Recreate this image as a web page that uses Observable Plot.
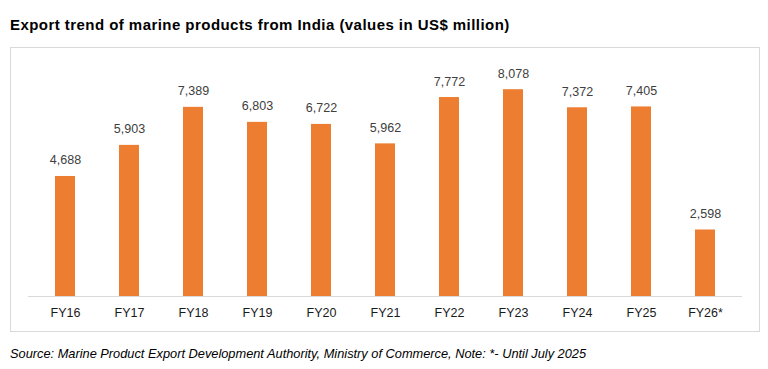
<!DOCTYPE html>
<html>
<head>
<meta charset="utf-8">
<script src="https://cdn.jsdelivr.net/npm/d3@7"></script>
<script src="https://cdn.jsdelivr.net/npm/@observablehq/plot@0.6"></script>
<style>
  html, body { margin: 0; padding: 0; background: #fff; }
  body { width: 768px; height: 369px; position: relative; overflow: hidden; font-family: "Liberation Sans", Arial, sans-serif; }
  #title { position: absolute; left: 10px; top: 16px; font-weight: bold; font-size: 15px; letter-spacing: 0.45px; color: #000; white-space: nowrap; line-height: 17px; }
  #box { position: absolute; left: 10px; top: 47px; width: 748px; height: 283px; border: 1px solid #d9d9d9; }
  #chart { position: absolute; left: 0; top: 0; }
  #caption { position: absolute; left: 10px; top: 346px; font-style: italic; font-size: 12.8px; color: #000; white-space: nowrap; line-height: 15px; }
</style>
</head>
<body>
<div id="title">Export trend of marine products from India (values in US$ million)</div>
<div id="box"></div>
<div id="chart"></div>
<div id="caption">Source: Marine Product Export Development Authority, Ministry of Commerce, Note: *- Until July 2025</div>
<script>
const years = ["FY16", "FY17", "FY18", "FY19", "FY20", "FY21", "FY22", "FY23", "FY24", "FY25", "FY26*"];
const exportsUSDm = [4688, 5903, 7389, 6803, 6722, 5962, 7772, 8078, 7372, 7405, 2598];

const data = years.map((year, i) => ({year, value: exportsUSDm[i]}));

const chart = Plot.plot({
  width: 768,
  height: 331,
  marginLeft: 28,
  marginRight: 26,
  marginTop: 40,
  marginBottom: 35,
  style: {fontFamily: '"Liberation Sans", Arial, sans-serif', fontSize: "12.5px", background: "transparent", overflow: "visible"},
  x: {domain: years, paddingInner: 0.69, paddingOuter: 0.345, label: null},
  y: {domain: [0, 10000], axis: null},
  marks: [
    Plot.barY(data, {x: "year", y: "value", fill: "#ED7D31"}),
    Plot.ruleY([0], {stroke: "#d9d9d9", strokeWidth: 1}),
    Plot.text(data, {x: "year", y: "value", text: d => d3.format(",")(d.value), lineAnchor: "bottom", dy: -12, fill: "#404040", fontSize: 12.5}),
    Plot.axisX({tickSize: 0, tickPadding: 12, fontSize: 12.5, color: "#1a1a1a", label: null})
  ]
});
document.getElementById("chart").appendChild(chart);
</script>
</body>
</html>
